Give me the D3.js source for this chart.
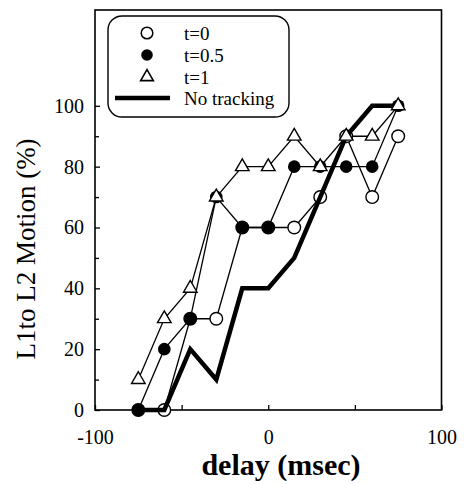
<!DOCTYPE html>
<html>
<head>
<meta charset="utf-8">
<script src="https://cdn.jsdelivr.net/npm/d3@7"></script>
<style>
  body { margin: 0; background: #fff; }
  svg { display: block; font-family: "Liberation Serif", "Times New Roman", serif; }
</style>
</head>
<body>
<svg width="464" height="484"></svg>
<script>
// data
var delays = [-75, -60, -45, -30, -15, 0, 15, 30, 45, 60, 75];
var t0 = [0, 0, 30, 30, 60, 60, 60, 70, 90, 70, 90];
var t05 = [0, 20, 30, 70, 60, 60, 80, 80, 80, 80, 100];
var t1 = [10, 30, 40, 70, 80, 80, 90, 80, 90, 90, 100];
var noTracking = [0, 0, 20, 10, 40, 40, 50, 70, 90, 100, 100];
var yTicks = [0, 20, 40, 60, 80, 100];
var yMinor = [10, 30, 50, 70, 90];
var xTicks = [-100, -50, 0, 50, 100];
var xLabels = [-100, 0, 100];
var legendNames = ["t=0", "t=0.5", "t=1", "No tracking"];

var svg = d3.select("svg");

var x = d3.scaleLinear().domain([-100, 100]).range([95, 441.5]);
var y = d3.scaleLinear().domain([0, 131.5]).range([410, 10]);

function pts(vals) {
  return delays.map(function(d, i) { return [d, vals[i]]; });
}

var line = d3.line()
  .x(function(d) { return x(d[0]); })
  .y(function(d) { return y(d[1]); });

// axes (ticks point inward)
var gy = svg.append("g").attr("transform", "translate(95,0)")
  .call(d3.axisLeft(y).tickValues(yTicks).tickSize(-5).tickPadding(11));
var gy2 = svg.append("g").attr("transform", "translate(95,0)")
  .call(d3.axisLeft(y).tickValues(yMinor).tickSize(-4).tickFormat(""));
var gx = svg.append("g").attr("transform", "translate(0,410)")
  .call(d3.axisBottom(x).tickValues(xTicks).tickSize(-5).tickPadding(20)
    .tickFormat(function(d) { return xLabels.indexOf(d) >= 0 ? d : ""; }));

[gy, gy2, gx].forEach(function(g) {
  g.select(".domain").remove();
  g.selectAll("line").attr("stroke", "#000").attr("stroke-width", 1.3);
  g.selectAll("text").attr("font-family", "Liberation Serif").attr("font-size", 20).attr("fill", "#000");
});

// frame
svg.append("rect")
  .attr("x", x(-100)).attr("y", y(131.5))
  .attr("width", x(100) - x(-100)).attr("height", y(0) - y(131.5))
  .attr("fill", "none").attr("stroke", "#000").attr("stroke-width", 1.6);

// thin connecting lines
[t0, t05, t1].forEach(function(s) {
  svg.append("path").datum(pts(s)).attr("d", line)
    .attr("fill", "none").attr("stroke", "#000").attr("stroke-width", 1.3);
});

// open circles
svg.selectAll(".open").data(pts(t0)).enter().append("circle")
  .attr("class", "open")
  .attr("cx", function(d) { return x(d[0]); })
  .attr("cy", function(d) { return y(d[1]); })
  .attr("r", 6.3).attr("fill", "#fff").attr("stroke", "#000").attr("stroke-width", 1.4);

// no tracking thick line
svg.append("path").datum(pts(noTracking)).attr("d", line)
  .attr("fill", "none").attr("stroke", "#000").attr("stroke-width", 4.5)
  .attr("stroke-linejoin", "miter");

// filled circles
svg.selectAll(".filled").data(pts(t05)).enter().append("circle")
  .attr("class", "filled")
  .attr("cx", function(d) { return x(d[0]); })
  .attr("cy", function(d) { return y(d[1]); })
  .attr("r", 6.3).attr("fill", "#000");

// triangles
var tri = d3.symbol().type(d3.symbolTriangle).size(80);
svg.selectAll(".tri").data(pts(t1)).enter().append("path")
  .attr("class", "tri")
  .attr("d", tri)
  .attr("transform", function(d) { return "translate(" + x(d[0]) + "," + y(d[1]) + ")"; })
  .attr("fill", "#fff").attr("stroke", "#000").attr("stroke-width", 1.4);

// legend
var lg = svg.append("g");
lg.append("rect").attr("x", 108).attr("y", 16).attr("width", 181).attr("height", 101)
  .attr("rx", 14).attr("fill", "#fff").attr("stroke", "#000").attr("stroke-width", 1.4);
var rowY = [33, 55, 77, 98];
lg.append("circle").attr("cx", 147).attr("cy", rowY[0]).attr("r", 5.8)
  .attr("fill", "#fff").attr("stroke", "#000").attr("stroke-width", 1.5);
lg.append("circle").attr("cx", 147).attr("cy", rowY[1]).attr("r", 5.8).attr("fill", "#000");
lg.append("path").attr("d", d3.symbol().type(d3.symbolTriangle).size(70))
  .attr("transform", "translate(147," + rowY[2] + ")")
  .attr("fill", "#fff").attr("stroke", "#000").attr("stroke-width", 1.6);
lg.append("line").attr("x1", 115).attr("x2", 170).attr("y1", rowY[3]).attr("y2", rowY[3])
  .attr("stroke", "#000").attr("stroke-width", 4.5);
lg.selectAll("text").data(legendNames).enter().append("text")
  .attr("x", 184).attr("y", function(d, i) { return rowY[i]; })
  .attr("dy", "0.35em").attr("font-size", 19).text(function(d) { return d; });

// axis titles
svg.append("text").attr("x", 281).attr("y", 475).attr("text-anchor", "middle")
  .attr("font-size", 30).attr("font-weight", "bold").text("delay (msec)");
svg.append("text").attr("transform", "translate(35,249) rotate(-90)")
  .attr("text-anchor", "middle").attr("font-size", 27).text("L1to L2 Motion (%)");
</script>
</body>
</html>
